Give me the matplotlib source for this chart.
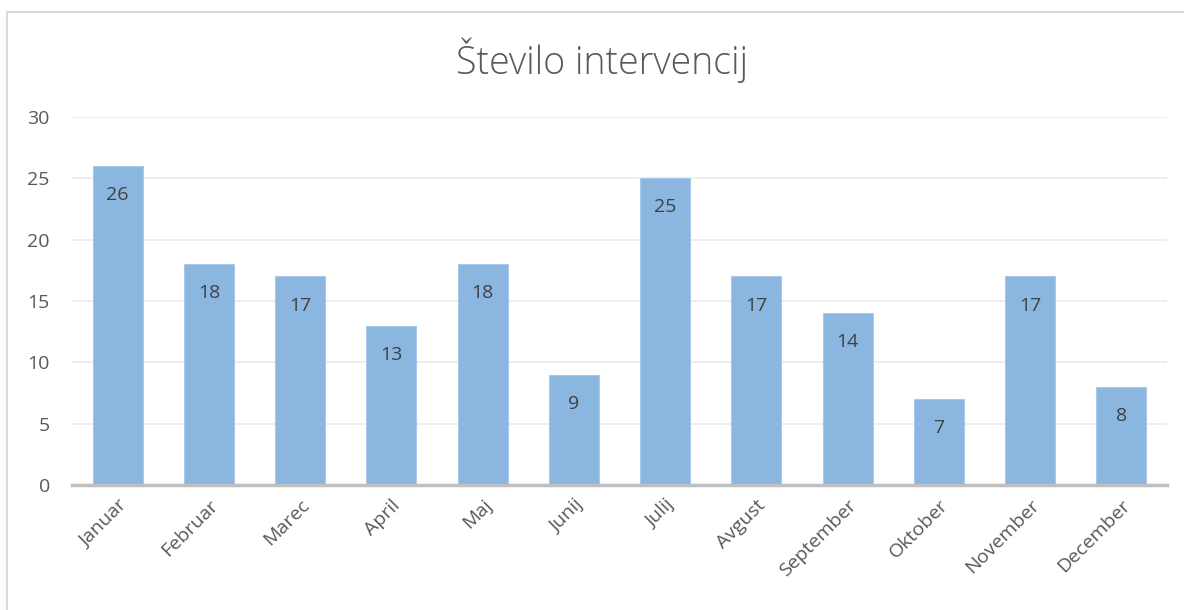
import matplotlib
matplotlib.use("Agg")
import matplotlib.pyplot as plt
from matplotlib.patches import Rectangle

# data
months = ['Januar', 'Februar', 'Marec', 'April', 'Maj', 'Junij',
          'Julij', 'Avgust', 'September', 'Oktober', 'November', 'December']
interventions = [26, 18, 17, 13, 18, 9, 25, 17, 14, 7, 17, 8]
y_ticks = [0, 5, 10, 15, 20, 25, 30]

plt.rcParams['font.family'] = ['Open Sans', 'DejaVu Sans']

fig = plt.figure(figsize=(11.84, 6.10), dpi=100)
ax = fig.add_axes([72 / 1184, 1 - 485 / 610, (1167 - 72) / 1184, (485 - 117) / 610])

# chart border like the excel chart area
fig.patches.append(Rectangle((7 / 1184, -0.1), 1.2, 1 - 12 / 610 + 0.1,
                             transform=fig.transFigure, fill=False,
                             edgecolor='#d9d9d9', linewidth=1.5))

x = range(len(months))
bars = ax.bar(x, interventions, width=0.55, color='#8ab6e0',
              edgecolor='#a9c9ea', linewidth=0.8, zorder=3)

# value labels inside the top of each bar
for xi, v in zip(x, interventions):
    ax.annotate(str(v), (xi, v), xytext=(0, -21), textcoords='offset points',
                ha='center', va='center', fontsize=14, color='#404040', zorder=4)

ax.set_xlim(-0.5, len(months) - 0.5)
ax.set_ylim(0, 30)
ax.set_yticks(y_ticks)
ax.set_xticks(list(x))
ax.set_xticklabels(months, rotation=45, ha='right', rotation_mode='anchor',
                   fontsize=14, color='#595959')
ax.tick_params(axis='y', labelsize=14, labelcolor='#595959', length=0, pad=16)
ax.tick_params(axis='x', length=0, pad=8)

ax.grid(axis='y', color='#ebebeb', linewidth=1.2, zorder=0)
for s in ['top', 'right', 'left']:
    ax.spines[s].set_visible(False)
ax.spines['bottom'].set_color('#bfbfbf')
ax.spines['bottom'].set_linewidth(2.5)
ax.spines['bottom'].set_zorder(5)

fig.text(602 / 1184, 1 - 60 / 610, 'Število intervencij', ha='center', va='center',
         fontsize=27, color='#595959', fontweight='light')

fig.savefig('out.png', dpi=100)
